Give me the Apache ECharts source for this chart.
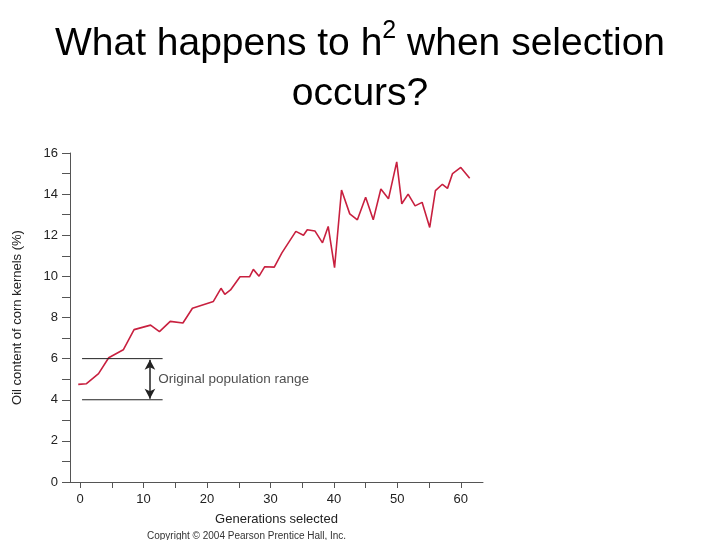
<html>
<head>
    <meta charset="UTF-8">
    <title>Selection response</title>
    <script src="https://cdn.jsdelivr.net/npm/echarts@6/dist/echarts.min.js"></script>
    <style>
        body { margin: 0; background: #fff; }
    </style>
</head>
<body>
    <div id="chart" style="width:720px; height:540px;"></div>
    <script>
        // generations selected and oil content (%)
        var generations = [-0.3, 1, 2.9, 4.5, 6.8, 8.5, 11.1, 12.5, 14.2, 16.2, 17.7, 21, 22.2, 22.8, 23.7, 25.2, 26.7, 27.3, 28.2, 29.1, 30.6, 31.8, 34, 35.2, 35.8, 37, 38.2, 39.1, 40.1, 41.2, 42.5, 43.7, 45, 46.2, 47.4, 48.6, 49.9, 50.7, 51.7, 52.8, 53.9, 55.1, 56, 57.1, 57.9, 58.7, 60, 61.4];
        var oilContent = [4.75, 4.78, 5.27, 6.04, 6.43, 7.41, 7.63, 7.31, 7.81, 7.73, 8.45, 8.78, 9.42, 9.13, 9.34, 9.98, 9.98, 10.34, 10.01, 10.47, 10.45, 11.14, 12.19, 12.0, 12.27, 12.21, 11.63, 12.43, 10.42, 14.2, 13.04, 12.75, 13.85, 12.75, 14.25, 13.77, 15.57, 13.53, 14.0, 13.43, 13.6, 12.38, 14.17, 14.48, 14.28, 15.0, 15.3, 14.77];
        var xTicks = [0, 5, 10, 15, 20, 25, 30, 35, 40, 45, 50, 55, 60];
        var xLabels = [0, 10, 20, 30, 40, 50, 60];
        var yTicks = [0, 1, 2, 3, 4, 5, 6, 7, 8, 9, 10, 11, 12, 13, 14, 15, 16];
        var yLabels = [0, 2, 4, 6, 8, 10, 12, 14, 16];
        var rangeLow = 4, rangeHigh = 6;
        var rangeFrom = 0.3, rangeTo = 13, arrowAt = 11;

        var pts = generations.map(function (g, i) { return [g, oilContent[i]]; });
        var chart = echarts.init(document.getElementById('chart'));
        var axisFont = { fontFamily: 'Liberation Sans', color: '#222', fontSize: 13 };

        chart.setOption({
            animation: false,
            title: [{
                text: 'What happens to h{s|2} when selection\noccurs?',
                left: 'center', top: 14,
                textStyle: {
                    fontFamily: 'Liberation Sans', fontWeight: 'normal', fontSize: 39, color: '#000', lineHeight: 50,
                    rich: { s: { fontFamily: 'Liberation Sans', fontSize: 25, color: '#000', verticalAlign: 'top', padding: [0, 0, 16, 0] } }
                }
            }, {
                text: 'Copyright © 2004 Pearson Prentice Hall, Inc.',
                left: 142, top: 526,
                textStyle: { fontFamily: 'Liberation Sans', fontWeight: 'normal', fontSize: 10, color: '#333' }
            }],
            grid: { left: 70, right: 237, top: 153, bottom: 58 },
            xAxis: {
                type: 'value', min: -1.6, max: 63.5,
                name: 'Generations selected', nameLocation: 'middle', nameGap: 31,
                nameTextStyle: axisFont,
                axisLine: { lineStyle: { color: '#555' } },
                axisTick: { customValues: xTicks, length: 6, lineStyle: { color: '#555' } },
                axisLabel: { customValues: xLabels, margin: 11, fontFamily: 'Liberation Sans', color: '#222', fontSize: 13 },
                splitLine: { show: false }
            },
            yAxis: {
                type: 'value', min: 0, max: 16,
                name: 'Oil content of corn kernels (%)', nameLocation: 'middle', nameGap: 46,
                nameTextStyle: axisFont,
                axisLine: { show: true, onZero: false, lineStyle: { color: '#555' } },
                axisTick: { show: true, customValues: yTicks, length: 8, lineStyle: { color: '#555' } },
                axisLabel: { customValues: yLabels, margin: 12, fontFamily: 'Liberation Sans', color: '#222', fontSize: 13 },
                splitLine: { show: false }
            },
            series: [{
                type: 'line', data: pts, symbol: 'none',
                lineStyle: { color: '#c8203f', width: 1.6 }
            }, {
                type: 'line', data: [[rangeFrom, rangeHigh], [rangeTo, rangeHigh]], symbol: 'none',
                lineStyle: { color: '#222', width: 1 }
            }, {
                type: 'line', data: [[rangeFrom, rangeLow], [rangeTo, rangeLow]], symbol: 'none',
                lineStyle: { color: '#222', width: 1 },
                markLine: {
                    silent: true, symbol: ['arrow', 'arrow'], symbolSize: [8, 10],
                    lineStyle: { color: '#222', width: 1.5, type: 'solid' }, label: { show: false },
                    data: [[{ coord: [arrowAt, rangeLow + 0.05] }, { coord: [arrowAt, rangeHigh - 0.05] }]]
                }
            }, {
                type: 'scatter', data: [[arrowAt + 1.3, (rangeLow + rangeHigh) / 2]], symbolSize: 0,
                label: { show: true, position: 'right', distance: 0, formatter: 'Original population range', fontFamily: 'Liberation Sans', fontSize: 13.5, color: '#222' }
            }]
        });
    </script>
</body>
</html>
